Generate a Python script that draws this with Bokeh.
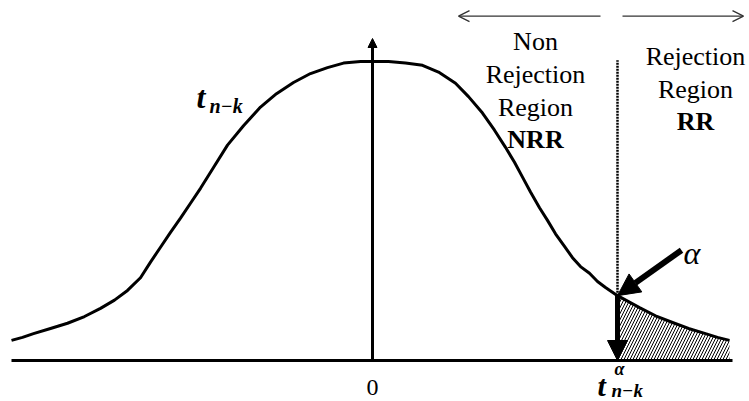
from bokeh.plotting import figure
from bokeh.models import Range1d, Arrow, NormalHead, OpenHead
from bokeh.core.properties import value
from bokeh.embed import file_html
from bokeh.resources import INLINE

# t-distribution density curve (t units, density)
curve_x = [-3.61, -3.50, -3.39, -3.22, -3.05, -2.88, -2.72, -2.58, -2.45, -2.32,
           -2.22, -2.12, -2.02, -1.92, -1.82, -1.72, -1.59, -1.45, -1.29, -1.12,
           -0.96, -0.79, -0.62, -0.45, -0.29, -0.12, 0.00, 0.16, 0.33, 0.50,
           0.66, 0.83, 0.96, 1.10, 1.22, 1.33, 1.42, 1.50, 1.58, 1.67,
           1.75, 1.83, 1.92, 2.00, 2.08, 2.17, 2.25, 2.33, 2.45, 2.56,
           2.67, 2.83, 3.00, 3.16, 3.33, 3.45, 3.57]
curve_y = [0.027, 0.031, 0.036, 0.043, 0.050, 0.059, 0.070, 0.081, 0.094, 0.111,
           0.132, 0.152, 0.172, 0.191, 0.211, 0.231, 0.259, 0.289, 0.315, 0.340,
           0.358, 0.373, 0.385, 0.393, 0.399, 0.401, 0.401, 0.401, 0.399, 0.396,
           0.387, 0.372, 0.354, 0.332, 0.309, 0.286, 0.266, 0.246, 0.226, 0.205,
           0.188, 0.170, 0.153, 0.138, 0.126, 0.117, 0.106, 0.098, 0.087, 0.079,
           0.071, 0.060, 0.051, 0.043, 0.036, 0.031, 0.027]

t_crit = 2.45          # critical value t^alpha_{n-k}
axis_left, axis_right = -3.61, 3.60
axis_top = 0.432

region_left = ["Non", "Rejection", "Region", "NRR"]
region_right = ["Rejection", "Region", "RR"]

FONT = "Liberation Serif"

p = figure(width=749, height=401, output_backend="svg", toolbar_location=None,
           x_range=Range1d(-3.72, 3.77), y_range=Range1d(-0.055, 0.483),
           min_border=0)
p.axis.visible = False
p.grid.visible = False
p.outline_line_color = None
p.background_fill_color = "white"
p.border_fill_color = "white"

y_crit = curve_y[curve_x.index(t_crit)]

# shaded rejection area under the tail
tail_x = [x for x in curve_x if x >= t_crit]
tail_y = [y for x, y in zip(curve_x, curve_y) if x >= t_crit]
p.varea(x=tail_x, y1=[0] * len(tail_x), y2=tail_y, fill_alpha=0,
        hatch_pattern="/", hatch_color="black", hatch_scale=6, hatch_weight=1)

# density curve
p.line(curve_x, curve_y, line_color="black", line_width=3, line_join="round")

# horizontal axis
p.line([axis_left, axis_right], [0, 0], line_color="black", line_width=3)

# vertical axis with small arrow head
p.add_layout(Arrow(x_start=0, y_start=0, x_end=0, y_end=axis_top,
                   line_width=3, line_color="black",
                   end=NormalHead(size=9, fill_color="black", line_color="black")))

# dotted boundary between regions
p.line([t_crit, t_crit], [y_crit, 0.403],
       line_color="black", line_width=2.5, line_dash="2 1")

# region arrows at the top
for xs, xe in [(2.28, 0.86), (2.50, 3.71)]:
    p.add_layout(Arrow(x_start=xs, y_start=0.462, x_end=xe, y_end=0.462,
                       line_width=1.3, line_color="#333333",
                       end=OpenHead(size=11, line_width=1.3, line_color="#333333")))

# bold arrow pointing at the alpha area
p.add_layout(Arrow(x_start=3.09, y_start=0.148, x_end=t_crit, y_end=y_crit,
                   line_width=6, line_color="black",
                   end=NormalHead(size=22, fill_color="black", line_color="black")))
# bold arrow down to the critical value
p.add_layout(Arrow(x_start=t_crit, y_start=y_crit, x_end=t_crit, y_end=0.0,
                   line_width=5, line_color="black",
                   end=NormalHead(size=20, fill_color="black", line_color="black")))


def txt(x, y, text, size, style="normal", align="center", baseline="middle"):
    p.text(x=[x], y=[y], text=[text], text_font=value(FONT),
           text_font_size=f"{size}px", text_font_style=style,
           text_align=align, text_baseline=baseline, text_color="black")


# non rejection region text
for t, yy in zip(region_left, [0.428, 0.384, 0.340, 0.296]):
    txt(1.63, yy, t, 26, "bold" if t == "NRR" else "normal")

# rejection region text
for t, yy in zip(region_right, [0.408, 0.364, 0.320]):
    txt(3.23, yy, t, 26, "bold" if t == "RR" else "normal")

# distribution name
txt(-1.76, 0.353, "t", 32, "bold italic", "left", "alphabetic")
txt(-1.63, 0.341, "n\u2212k", 20, "bold italic", "left", "alphabetic")

# origin
txt(0.0, -0.036, "0", 24)

# critical value label
txt(2.25, -0.034, "t", 30, "bold italic", "left", "alphabetic")
txt(2.42, -0.012, "\u03b1", 18, "bold italic", "left", "alphabetic")
txt(2.39, -0.040, "n\u2212k", 19, "bold italic", "left", "alphabetic")

# alpha
txt(3.11, 0.144, "\u03b1", 32, "italic", "left", "alphabetic")

open("out.html", "w").write(file_html(p, INLINE))
